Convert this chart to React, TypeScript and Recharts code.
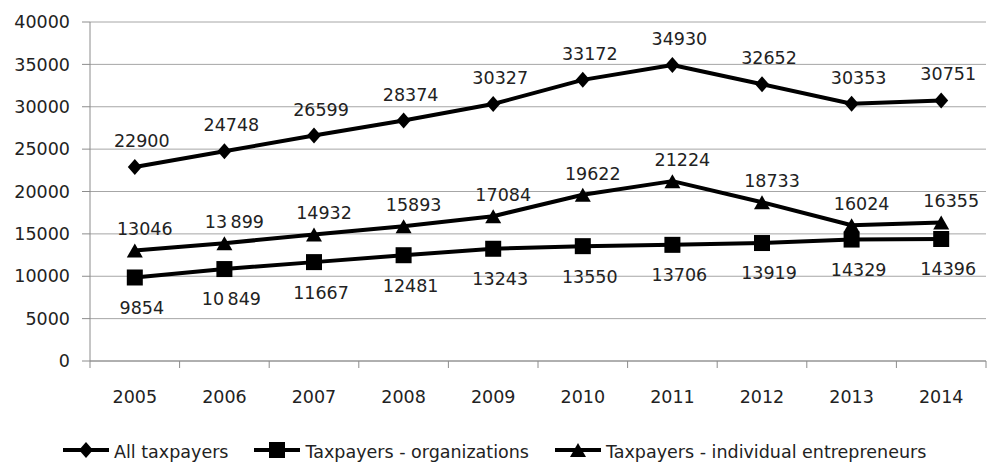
import { LineChart, Line, XAxis, YAxis, CartesianGrid, LabelList, Legend } from "recharts";

const years = ["2005", "2006", "2007", "2008", "2009", "2010", "2011", "2012", "2013", "2014"];
const allTaxpayers = [22900, 24748, 26599, 28374, 30327, 33172, 34930, 32652, 30353, 30751];
const organizations = [9854, 10849, 11667, 12481, 13243, 13550, 13706, 13919, 14329, 14396];
const entrepreneurs = [13046, 13899, 14932, 15893, 17084, 19622, 21224, 18733, 16024, 16355];

// label text as printed on the chart (two of them use a thin digit-group space)
const allLabels = ["22900", "24748", "26599", "28374", "30327", "33172", "34930", "32652", "30353", "30751"];
const orgLabels = ["9854", "10\u2009849", "11667", "12481", "13243", "13550", "13706", "13919", "14329", "14396"];
const entLabels = ["13046", "13\u2009899", "14932", "15893", "17084", "19622", "21224", "18733", "16024", "16355"];

const seriesNames = ["All taxpayers", "Taxpayers - organizations", "Taxpayers - individual entrepreneurs"];
const yTicks = [0, 5000, 10000, 15000, 20000, 25000, 30000, 35000, 40000];

const data = years.map((year, i) => ({
  year,
  all: allTaxpayers[i],
  org: organizations[i],
  ent: entrepreneurs[i],
  allLabel: allLabels[i],
  orgLabel: orgLabels[i],
  entLabel: entLabels[i],
}));

const WIDTH = 988;
const HEIGHT = 464;
const MARGIN = { top: 22, right: 2, bottom: 0, left: 0 };
const Y_AXIS_W = 90;
const BAND = (WIDTH - MARGIN.left - MARGIN.right - Y_AXIS_W) / years.length;

const FONT = "'DejaVu Sans', sans-serif";
const FONT_SIZE = 17.5;
const TEXT = "#222";
const GRID = "#a6a6a6";
const AXIS = "#8c8c8c";

function Diamond({ cx, cy, w = 7, h = 8 }: any) {
  return <path d={`M${cx},${cy - h}L${cx + w},${cy}L${cx},${cy + h}L${cx - w},${cy}Z`} fill="#000" />;
}

function Square({ cx, cy, s = 8 }: any) {
  return <rect x={cx - s} y={cy - s} width={s * 2} height={s * 2} fill="#000" />;
}

function Triangle({ cx, cy, w = 8, h = 7 }: any) {
  return <path d={`M${cx},${cy - h}L${cx + w},${cy + h}L${cx - w},${cy + h}Z`} fill="#000" />;
}

const markers = [Diamond, Square, Triangle];

function YearTick({ x, y, payload, index }: any) {
  const last = index === years.length - 1;
  return (
    <g>
      <line x1={x - BAND / 2} x2={x - BAND / 2} y1={y} y2={y + 7} stroke={AXIS} />
      {last && <line x1={x + BAND / 2} x2={x + BAND / 2} y1={y} y2={y + 7} stroke={AXIS} />}
      <text x={x} y={y + 42} textAnchor="middle" fill={TEXT} fontSize={FONT_SIZE} fontFamily={FONT}>
        {payload.value}
      </text>
    </g>
  );
}

function LegendContent() {
  return (
    <div
      style={{
        display: "flex",
        paddingLeft: 63,
        paddingTop: 8,
        fontFamily: FONT,
        fontSize: FONT_SIZE,
        color: TEXT,
        whiteSpace: "nowrap",
      }}
    >
      {seriesNames.map((name, i) => {
        const Marker = markers[i];
        return (
          <div key={name} style={{ display: "flex", alignItems: "flex-start", marginRight: 26 }}>
            <svg width={46} height={16}>
              <line x1={0} x2={46} y1={8} y2={8} stroke="#000" strokeWidth={4} />
              <Marker cx={23} cy={8} />
            </svg>
            <span style={{ marginLeft: 5 }}>{name}</span>
          </div>
        );
      })}
    </div>
  );
}

const labelStyle = { fill: TEXT, fontSize: FONT_SIZE, fontFamily: FONT };

export default function App() {
  return (
    <div style={{ position: "absolute", left: 0, top: 0, background: "#fff" }}>
      <LineChart width={WIDTH} height={HEIGHT} data={data} margin={MARGIN}>
        <CartesianGrid vertical={false} stroke={GRID} />
        <XAxis
          dataKey="year"
          padding={{ left: BAND / 2, right: BAND / 2 }}
          height={73}
          interval={0}
          tickSize={0}
          tickMargin={0}
          tickLine={false}
          axisLine={{ stroke: AXIS }}
          tick={(p: any) => <YearTick {...p} />}
        />
        <YAxis
          width={Y_AXIS_W}
          domain={[0, 40000]}
          ticks={yTicks}
          interval={0}
          tickSize={8}
          tickMargin={12}
          tickLine={{ stroke: AXIS }}
          axisLine={{ stroke: AXIS }}
          tick={labelStyle}
        />
        <Legend
          verticalAlign="bottom"
          height={30}
          wrapperStyle={{ left: 0, width: WIDTH, bottom: 0 }}
          content={() => <LegendContent />}
        />
        <Line
          dataKey="all"
          name={seriesNames[0]}
          stroke="#000"
          strokeWidth={4}
          strokeLinejoin="round"
          isAnimationActive={false}
          dot={(p: any) => <Diamond key={`a-${p.index}`} cx={p.cx} cy={p.cy} />}
          activeDot={false}
        >
          <LabelList dataKey="allLabel" position="top" offset={20} dx={7} style={labelStyle} />
        </Line>
        <Line
          dataKey="org"
          name={seriesNames[1]}
          stroke="#000"
          strokeWidth={4}
          strokeLinejoin="round"
          isAnimationActive={false}
          dot={(p: any) => <Square key={`o-${p.index}`} cx={p.cx} cy={p.cy} />}
          activeDot={false}
        >
          <LabelList dataKey="orgLabel" position="bottom" offset={24} dx={7} style={labelStyle} />
        </Line>
        <Line
          dataKey="ent"
          name={seriesNames[2]}
          stroke="#000"
          strokeWidth={4}
          strokeLinejoin="round"
          isAnimationActive={false}
          dot={(p: any) => <Triangle key={`e-${p.index}`} cx={p.cx} cy={p.cy} />}
          activeDot={false}
        >
          <LabelList dataKey="entLabel" position="top" offset={15} dx={10} style={labelStyle} />
        </Line>
      </LineChart>
    </div>
  );
}
